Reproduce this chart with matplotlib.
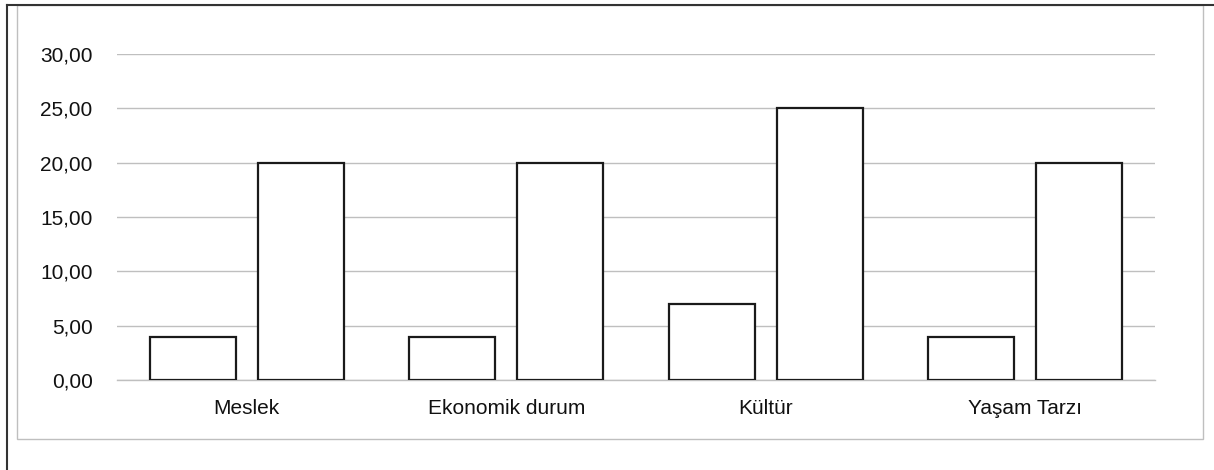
import matplotlib
matplotlib.use("Agg")
import matplotlib.pyplot as plt
import numpy as np
from matplotlib.lines import Line2D
from matplotlib.patches import Rectangle

categories = ["Meslek", "Ekonomik durum", "Kültür", "Yaşam Tarzı"]
series_a = [4.0, 4.0, 7.0, 4.0]
series_b = [20.0, 20.0, 25.0, 20.0]
yticks = [0, 5, 10, 15, 20, 25, 30]

plt.rcParams['font.family'] = ['Liberation Sans', 'DejaVu Sans']

W, H = 1214, 470
fig = plt.figure(figsize=(W / 100, H / 100), dpi=100)

# plot area in pixels: x 117..1155, y 54 (30) .. 380 (0)
x0, x1 = 117, 1155
y_top, y_zero = 54, 380
ax = fig.add_axes([x0 / W, 1 - y_zero / H, (x1 - x0) / W, (y_zero - y_top) / H])

x = np.arange(len(categories))
w = 0.331
off = 0.208
ax.bar(x - off, series_a, w, color="white", edgecolor="#1a1a1a", linewidth=1.6, zorder=3)
ax.bar(x + off, series_b, w, color="white", edgecolor="#1a1a1a", linewidth=1.6, zorder=3)

ax.set_xlim(-0.5, len(categories) - 0.5)
ax.set_ylim(0, 30)
ax.set_yticks(yticks)
ax.set_yticklabels([f"{v:.2f}".replace(".", ",") for v in yticks])
ax.set_xticks(x)
ax.set_xticklabels(categories)
ax.yaxis.grid(True, color="#bfbfbf", linewidth=1.0, zorder=0)
ax.tick_params(axis="both", length=0, labelsize=15, colors="#111111")
ax.tick_params(axis="y", pad=17.5)
ax.tick_params(axis="x", pad=14)
for s in ["top", "right", "left"]:
    ax.spines[s].set_visible(False)
ax.spines["bottom"].set_color("#bfbfbf")
ax.spines["bottom"].set_linewidth(1.0)

# chart frames
fig.add_artist(Rectangle((17 / W, 1 - 439 / H), (1203 - 17) / W, (439 - 5) / H,
                         transform=fig.transFigure, fill=False, edgecolor="#bfbfbf", linewidth=1.0))
fig.add_artist(Line2D([7 / W, 7 / W], [0, 1 - 5 / H], transform=fig.transFigure,
                      color="#333333", linewidth=1.5))
fig.add_artist(Line2D([7 / W, 1], [1 - 5 / H, 1 - 5 / H], transform=fig.transFigure,
                      color="#333333", linewidth=1.5))

fig.savefig("out.png", dpi=100)
